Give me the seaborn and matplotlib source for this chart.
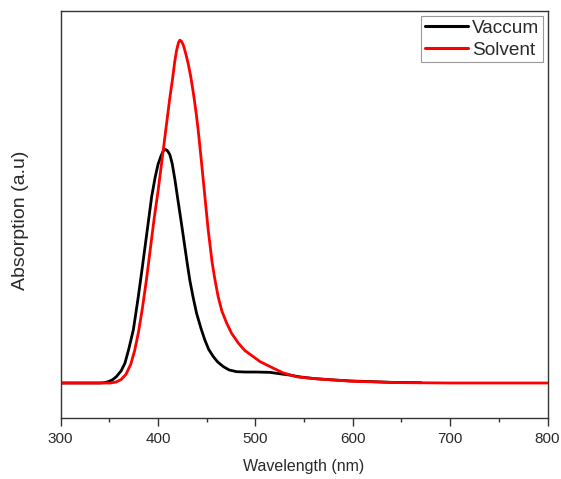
import numpy as np
import pandas as pd
import seaborn as sns
import matplotlib
matplotlib.use("Agg")
import matplotlib.pyplot as plt
from matplotlib.ticker import MultipleLocator

# --- data (wavelength in nm, absorption in a.u.) ---
vaccum_wl = [300, 340, 345, 349, 353, 357, 362, 366, 370, 374.6, 377, 379.7, 383, 386.6,
             390, 393.4, 397, 400, 403, 405, 406.9, 408.5, 410, 412.1, 414.5, 417.2,
             419.8, 422.4, 425, 427.5, 430, 432.6, 436, 439.5, 444, 448.1, 452, 456.6,
             461, 466.9, 473, 480.7, 490, 500, 514.9, 525, 535.5, 545, 560, 580, 597,
             620, 638, 670]
vaccum_abs = [0.0, 0.0, 0.001, 0.004, 0.009, 0.018, 0.035, 0.058, 0.10, 0.155, 0.20,
              0.252, 0.32, 0.397, 0.47, 0.543, 0.60, 0.638, 0.662, 0.675, 0.681, 0.680,
              0.676, 0.666, 0.64, 0.595, 0.545, 0.496, 0.446, 0.397, 0.348, 0.300, 0.25,
              0.204, 0.16, 0.125, 0.098, 0.0775, 0.062, 0.048, 0.038, 0.033, 0.032,
              0.032, 0.031, 0.027, 0.023, 0.018, 0.013, 0.009, 0.006, 0.004, 0.002, 0.001]

solvent_wl = [300, 351, 357, 362, 367, 372, 376, 380, 384, 388, 392, 396, 400, 404, 408,
              412, 415, 417, 419, 421, 422.4, 424, 426, 428.5, 430.9, 433.8, 436.8, 439,
              441.2, 444.7, 448.1, 451.5, 455.6, 458.5, 461.7, 465.5, 470.4, 475.5, 482.3,
              489, 497.7, 505, 514.9, 528, 542.4, 563, 600, 650, 700, 800]
solvent_abs = [0.0, 0.0, 0.003, 0.010, 0.025, 0.055, 0.095, 0.15, 0.22, 0.30, 0.39,
               0.48, 0.56, 0.65, 0.74, 0.83, 0.89, 0.935, 0.97, 0.993, 1.0, 0.997, 0.985,
               0.96, 0.932, 0.89, 0.835, 0.79, 0.738, 0.641, 0.543, 0.446, 0.350, 0.30,
               0.252, 0.21, 0.175, 0.145, 0.117, 0.095, 0.077, 0.062, 0.048, 0.03, 0.018,
               0.012, 0.005, 0.001, 0.0, 0.0]

series_names = ["Vaccum", "Solvent"]
series_colors = {"Vaccum": "#000000", "Solvent": "#ff0000"}
x_ticks = [300, 400, 500, 600, 700, 800]

df = pd.concat([
    pd.DataFrame({"Wavelength": vaccum_wl, "Absorption": vaccum_abs, "Series": "Vaccum"}),
    pd.DataFrame({"Wavelength": solvent_wl, "Absorption": solvent_abs, "Series": "Solvent"}),
], ignore_index=True)

sns.set_theme(style="white")
plt.rcParams["font.family"] = ["Liberation Sans", "DejaVu Sans"]

fig = plt.figure(figsize=(5.61, 4.79), dpi=100)
ax = fig.add_axes([0.1082, 0.1267, 0.9760 - 0.1082, 0.977 - 0.1267])

sns.lineplot(data=df, x="Wavelength", y="Absorption", hue="Series",
             hue_order=series_names, palette=series_colors, sort=False,
             estimator=None, linewidth=2.0, ax=ax)
for line in ax.get_lines():
    line.set_solid_joinstyle("round")

ax.set_xlim(300, 800)
ax.set_ylim(-0.103, 1.085)
ax.set_xticks(x_ticks)
ax.xaxis.set_minor_locator(MultipleLocator(50))
ax.set_yticks([])
ax.tick_params(axis="x", which="major", direction="out", length=5.5, width=1.0,
               color="#333333", labelsize=11, labelcolor="#2a2a2a", pad=4,
               bottom=True, top=False)
ax.tick_params(axis="x", which="minor", direction="out", length=3, width=1.0,
               color="#333333", bottom=True, top=False)
for sp in ax.spines.values():
    sp.set_color("#333333")
    sp.set_linewidth(1.0)

ax.set_xlabel("Wavelength (nm)", fontsize=11.5, color="#2a2a2a", labelpad=10)
ax.set_ylabel("Absorption (a.u)", fontsize=14, color="#2a2a2a")
ax.yaxis.set_label_coords(-0.066, 0.487)

leg = ax.legend(loc="upper right", fontsize=13.7, frameon=True, fancybox=False,
                edgecolor="#999999", framealpha=1, borderpad=0.18, labelspacing=0.27,
                handlelength=2.3, handletextpad=0.2, borderaxespad=0.25)
leg.get_frame().set_linewidth(0.8)
for line in leg.get_lines():
    line.set_linewidth(2.2)
for t in leg.get_texts():
    t.set_color("#2a2a2a")

fig.savefig("out.png", dpi=100)
